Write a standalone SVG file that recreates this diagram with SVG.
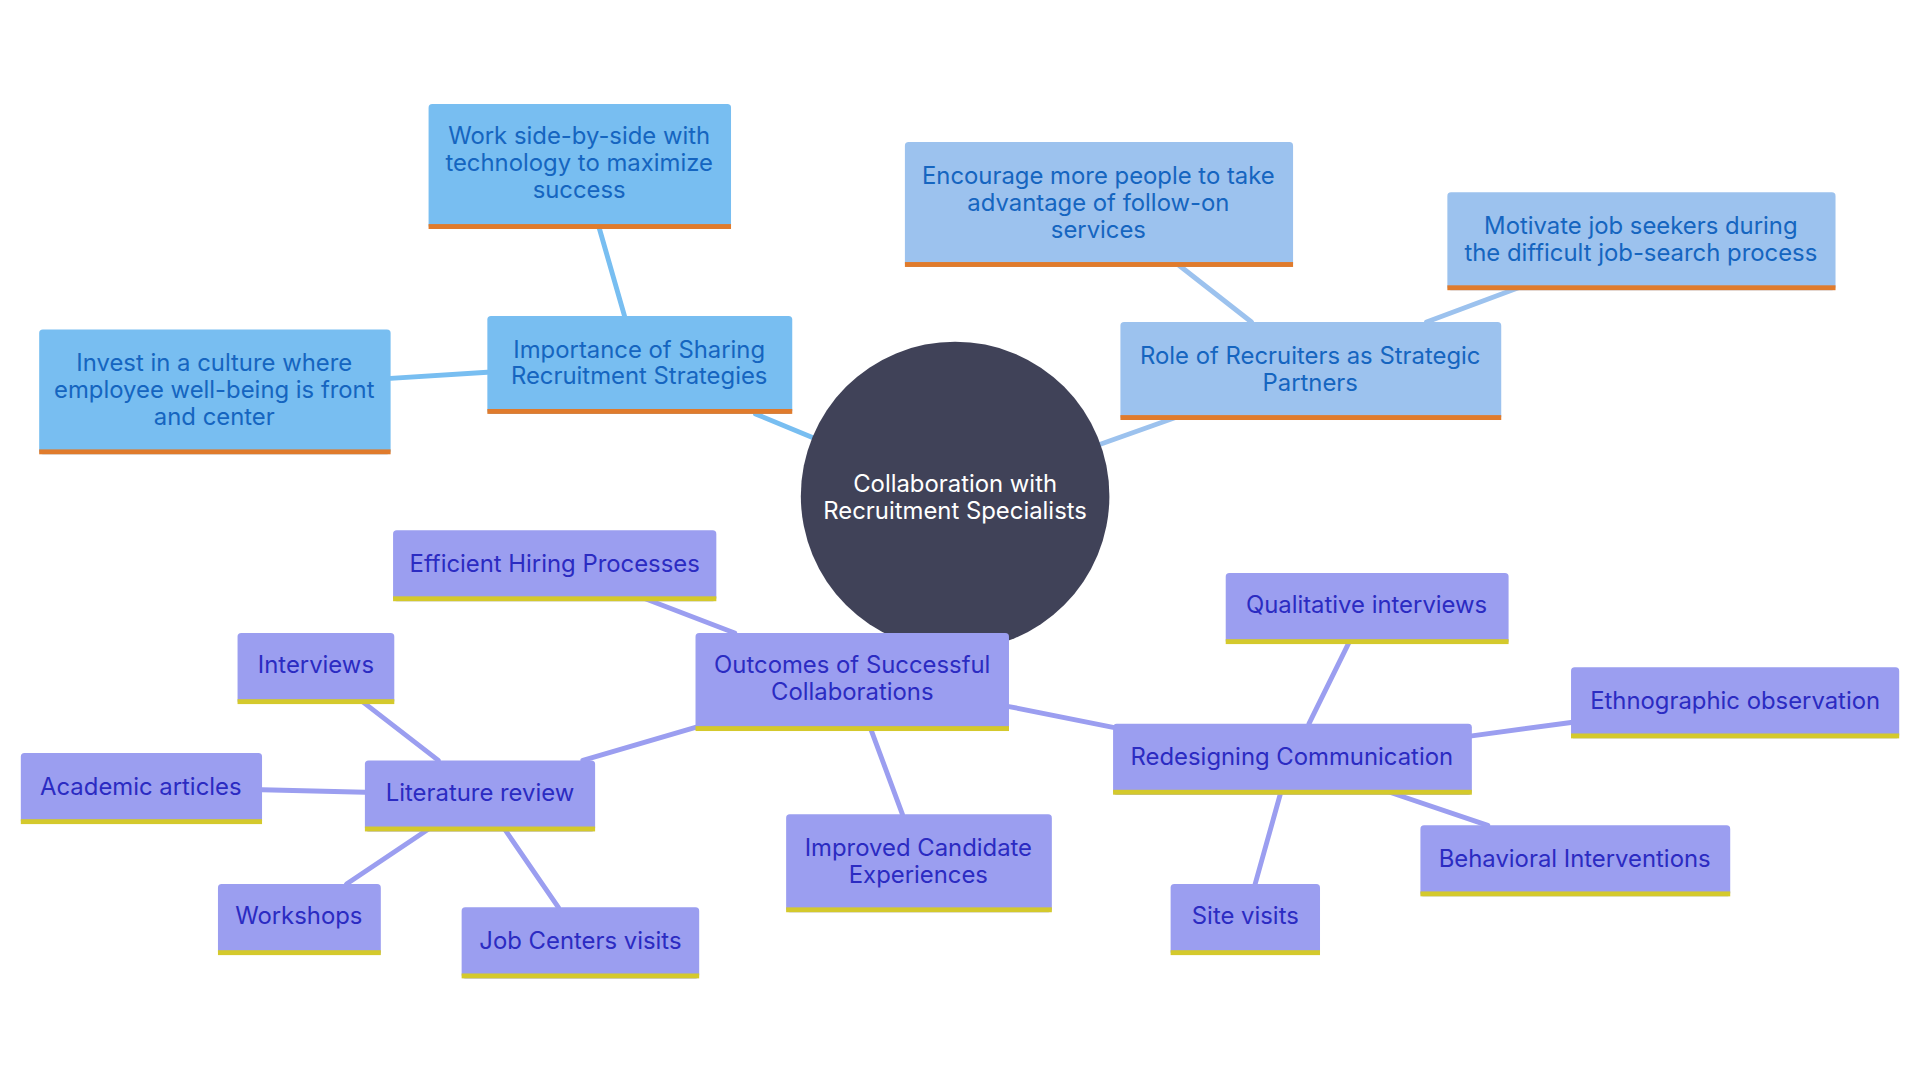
<svg xmlns="http://www.w3.org/2000/svg" width="1920" height="1080" viewBox="0 0 1920 1080">
<style>
.t{font-family:Inter,"Open Sans",sans-serif;font-size:19.5px;text-anchor:middle}
.b1 rect.f{fill:#78BEF1}.b1 text{fill:#1565C0}
.b2 rect.f{fill:#9CC2EE}.b2 text{fill:#1565C0}
.p rect.f{fill:#9B9EF0}.p text{fill:#2B2BC2}
rect.o{fill:#E07B2C}.p rect.o{fill:#D4C92C}
.e line{stroke-width:4;stroke-linecap:round}
</style>
<rect width="1920" height="1080" fill="#fff"/>
<g transform="scale(1.2245)">
<g id="connectors" class="e">
<line x1="663" y1="357" x2="617" y2="338" stroke="#78BEF1"/>
<line x1="510" y1="258" x2="489" y2="185" stroke="#78BEF1"/>
<line x1="398" y1="304" x2="319" y2="309" stroke="#78BEF1"/>
<line x1="898" y1="363" x2="960" y2="341" stroke="#9CC2EE"/>
<line x1="1022" y1="263" x2="962" y2="216" stroke="#9CC2EE"/>
<line x1="1165" y1="263" x2="1240" y2="235" stroke="#9CC2EE"/>
<g stroke="#9B9EF0">
<line x1="600" y1="517" x2="527" y2="489"/>
<line x1="568" y1="594" x2="476" y2="621"/>
<line x1="711" y1="595" x2="737" y2="665"/>
<line x1="824" y1="577" x2="909" y2="594"/>
<line x1="358" y1="621" x2="296" y2="573"/>
<line x1="298" y1="647" x2="214" y2="645"/>
<line x1="350" y1="677" x2="283" y2="722"/>
<line x1="412" y1="677" x2="456" y2="741"/>
<line x1="1069" y1="591" x2="1102" y2="524"/>
<line x1="1202" y1="601" x2="1283" y2="590"/>
<line x1="1135" y1="647" x2="1215" y2="674"/>
<line x1="1046" y1="647" x2="1025" y2="722"/>
</g>
</g>
<g id="center"><circle cx="780" cy="405" r="126" fill="#404258"/>
<text class="t" fill="#fff" x="780" y="402">Collaboration with</text><text class="t" fill="#fff" x="780" y="424">Recruitment Specialists</text></g>
<g id="importance" class="b1"><rect class="f" x="398" y="258" width="249" height="80" rx="3"/><rect class="o" x="398" y="334" width="249" height="4"/>
<text class="t" x="522" y="292">Importance of Sharing</text><text class="t" x="522" y="314">Recruitment Strategies</text></g>
<g id="work" class="b1"><rect class="f" x="350" y="85" width="247" height="102" rx="3"/><rect class="o" x="350" y="183" width="247" height="4"/>
<text class="t" x="473" y="118">Work side-by-side with</text><text class="t" x="473" y="140">technology to maximize</text><text class="t" x="473" y="162">success</text></g>
<g id="invest" class="b1"><rect class="f" x="32" y="269" width="287" height="102" rx="3"/><rect class="o" x="32" y="367" width="287" height="4"/>
<text class="t" x="175" y="303">Invest in a culture where</text><text class="t" x="175" y="325">employee well-being is front</text><text class="t" x="175" y="347">and center</text></g>
<g id="role" class="b2"><rect class="f" x="915" y="263" width="311" height="80" rx="3"/><rect class="o" x="915" y="339" width="311" height="4"/>
<text class="t" x="1070" y="297">Role of Recruiters as Strategic</text><text class="t" x="1070" y="319">Partners</text></g>
<g id="encourage" class="b2"><rect class="f" x="739" y="116" width="317" height="102" rx="3"/><rect class="o" x="739" y="214" width="317" height="4"/>
<text class="t" x="897" y="150">Encourage more people to take</text><text class="t" x="897" y="172">advantage of follow-on</text><text class="t" x="897" y="194">services</text></g>
<g id="motivate" class="b2"><rect class="f" x="1182" y="157" width="317" height="80" rx="3"/><rect class="o" x="1182" y="233" width="317" height="4"/>
<text class="t" x="1340" y="191">Motivate job seekers during</text><text class="t" x="1340" y="213">the difficult job-search process</text></g>
<g id="outcomes" class="p"><rect class="f" x="568" y="517" width="256" height="80" rx="3"/><rect class="o" x="568" y="593" width="256" height="4"/>
<text class="t" x="696" y="550">Outcomes of Successful</text><text class="t" x="696" y="572">Collaborations</text></g>
<g id="efficient" class="p"><rect class="f" x="321" y="433" width="264" height="58" rx="3"/><rect class="o" x="321" y="487" width="264" height="4"/>
<text class="t" x="453" y="467">Efficient Hiring Processes</text></g>
<g id="literature" class="p"><rect class="f" x="298" y="621" width="188" height="58" rx="3"/><rect class="o" x="298" y="675" width="188" height="4"/>
<text class="t" x="392" y="654">Literature review</text></g>
<g id="interviews" class="p"><rect class="f" x="194" y="517" width="128" height="58" rx="3"/><rect class="o" x="194" y="571" width="128" height="4"/>
<text class="t" x="258" y="550">Interviews</text></g>
<g id="academic" class="p"><rect class="f" x="17" y="615" width="197" height="58" rx="3"/><rect class="o" x="17" y="669" width="197" height="4"/>
<text class="t" x="115" y="649">Academic articles</text></g>
<g id="workshops" class="p"><rect class="f" x="178" y="722" width="133" height="58" rx="3"/><rect class="o" x="178" y="776" width="133" height="4"/>
<text class="t" x="244" y="755">Workshops</text></g>
<g id="jobcenters" class="p"><rect class="f" x="377" y="741" width="194" height="58" rx="3"/><rect class="o" x="377" y="795" width="194" height="4"/>
<text class="t" x="474" y="775">Job Centers visits</text></g>
<g id="improved" class="p"><rect class="f" x="642" y="665" width="217" height="80" rx="3"/><rect class="o" x="642" y="741" width="217" height="4"/>
<text class="t" x="750" y="699">Improved Candidate</text><text class="t" x="750" y="721">Experiences</text></g>
<g id="redesigning" class="p"><rect class="f" x="909" y="591" width="293" height="58" rx="3"/><rect class="o" x="909" y="645" width="293" height="4"/>
<text class="t" x="1055" y="625">Redesigning Communication</text></g>
<g id="qualitative" class="p"><rect class="f" x="1001" y="468" width="231" height="58" rx="3"/><rect class="o" x="1001" y="522" width="231" height="4"/>
<text class="t" x="1116" y="501">Qualitative interviews</text></g>
<g id="ethnographic" class="p"><rect class="f" x="1283" y="545" width="268" height="58" rx="3"/><rect class="o" x="1283" y="599" width="268" height="4"/>
<text class="t" x="1417" y="579">Ethnographic observation</text></g>
<g id="behavioral" class="p"><rect class="f" x="1160" y="674" width="253" height="58" rx="3"/><rect class="o" x="1160" y="728" width="253" height="4"/>
<text class="t" x="1286" y="708">Behavioral Interventions</text></g>
<g id="sitevisits" class="p"><rect class="f" x="956" y="722" width="122" height="58" rx="3"/><rect class="o" x="956" y="776" width="122" height="4"/>
<text class="t" x="1017" y="755">Site visits</text></g>
</g>
</svg>
